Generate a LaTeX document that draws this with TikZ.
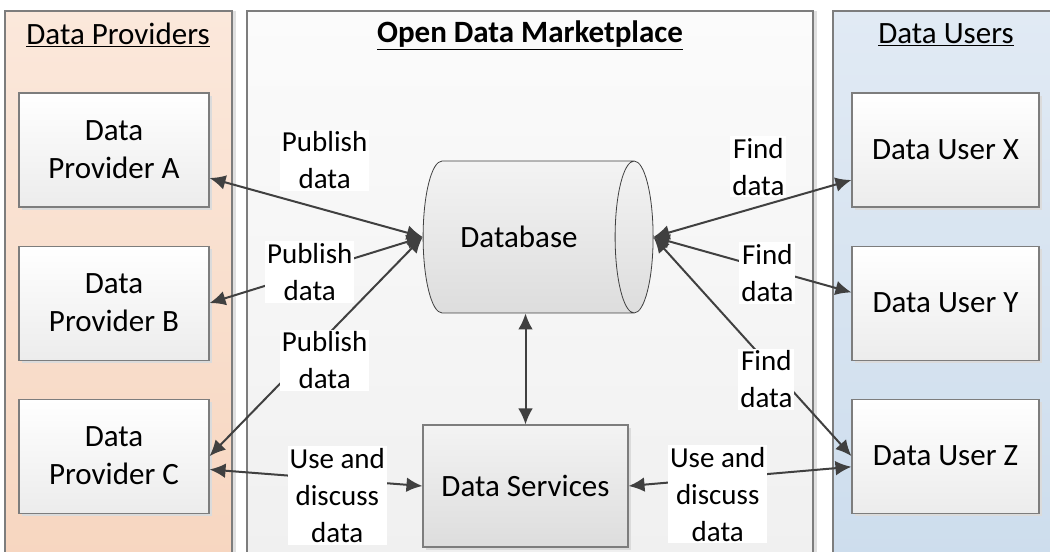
\documentclass[tikz,border=0pt]{standalone}
\usepackage{fontspec}
\setmainfont{Carlito}
\usetikzlibrary{
  arrows.meta,
  positioning,
  shapes.geometric,
  shadows
}
\definecolor{linegray}{RGB}{64,64,64}
\definecolor{framegray}{RGB}{125,125,125}
\definecolor{peachtop}{RGB}{251,232,219}
\definecolor{peachbot}{RGB}{247,214,192}
\definecolor{bluetop}{RGB}{225,234,244}
\definecolor{bluebot}{RGB}{205,221,237}
\definecolor{midtop}{RGB}{251,251,251}
\definecolor{midbot}{RGB}{240,240,240}
\definecolor{boxbot}{RGB}{236,236,236}
\definecolor{dbtop}{RGB}{243,243,243}
\definecolor{dbbot}{RGB}{221,221,221}

\begin{document}
\begin{tikzpicture}[
  x=0.75pt, y=-0.75pt,
  node distance=28.5pt,
  panel/.style={
    draw=framegray,
    line width=0.8pt,
    drop shadow={shadow xshift=3pt, shadow yshift=0pt, fill=black!12, opacity=1}
  },
  paneltitle/.style={
    font=\fontsize{23.25}{28}\selectfont,
    inner sep=0pt
  },
  entity/.style={
    draw=framegray,
    line width=0.8pt,
    top color=white,
    bottom color=boxbot,
    align=center,
    font=\fontsize{23.25}{28.5}\selectfont,
    minimum width=142.5pt,
    minimum height=85.5pt,
    drop shadow={shadow xshift=2.2pt, shadow yshift=-2.2pt, fill=black!14, opacity=1}
  },
  store/.style={
    cylinder,
    draw=linegray,
    line width=0.6pt,
    aspect=0.25,
    top color=dbtop,
    bottom color=dbbot,
    font=\fontsize{23.25}{28.5}\selectfont,
    text height=16pt,
    text depth=0pt,
    inner xsep=0pt,
    inner ysep=49pt,
    minimum height=172.5pt,
    minimum width=114pt
  },
  lbl/.style={
    fill=white,
    align=center,
    inner sep=1.5pt,
    font=\fontsize{21.75}{27.75}\selectfont
  },
  conn/.style={
    {Latex[length=12pt,width=11pt]}-{Latex[length=12pt,width=11pt]},
    line width=1.5pt,
    draw=linegray
  }
]
\clip (0,0) rectangle (1050,552);

\draw[panel, top color=peachtop, bottom color=peachbot] (5,11) rectangle (232,560);
\draw[panel, top color=midtop, bottom color=midbot] (247,11) rectangle (813,560);
\draw[panel, top color=bluetop, bottom color=bluebot] (833,11) rectangle (1060,560);

\node[paneltitle] (provtitle) at (118,35) {\underline{Data Providers}};
\node[paneltitle] (markettitle) at (530,35) {\underline{\textbf{Open Data Marketplace}}};
\node[paneltitle] (usertitle) at (946,35) {\underline{Data Users}};

\node[entity] (provA) at (114,150) {Data\\Provider A};
\node[entity, below=of provA] (provB) {Data\\Provider B};
\node[entity, below=of provB] (provC) {Data\\Provider C};

\node[entity, minimum width=140.25pt] (userX) at (945.5,150) {Data User X};
\node[entity, minimum width=140.25pt, below=of userX] (userY) {Data User Y};
\node[entity, minimum width=140.25pt, below=of userY] (userZ) {Data User Z};

\node[store] (db) at (519,237) {Database};
\node[entity, minimum width=153.75pt, minimum height=91.5pt, top color=dbtop, bottom color=dbbot] (sv) at (525.5,486) {Data Services};

\draw[conn] ([yshift=-21pt]provA.east) -- (db.west) node[lbl, pos=0.54, yshift=37pt]{Publish\\data};
\draw[conn] (provB.east) -- (db.west) node[lbl, pos=0.47]{Publish\\data};
\draw[conn] (provC.east) -- (db.west) node[lbl, pos=0.54, yshift=-17pt]{Publish\\data};
\draw[conn] (db.east) -- ([yshift=-22.5pt]userX.west) node[lbl, pos=0.53, yshift=30pt]{Find\\data};
\draw[conn] (db.east) -- ([yshift=8pt]userY.west) node[lbl, pos=0.575, yshift=-3pt]{Find\\data};
\draw[conn] (db.east) -- (userZ.west) node[lbl, pos=0.57, yshift=-13pt]{Find\\data};
\draw[conn] (db.south -| sv.north) -- (sv.north);
\draw[conn] ([yshift=-10pt]provC.east) -- (sv.west) node[lbl, pos=0.6, yshift=-12pt]{Use and\\discuss\\data};
\draw[conn] (sv.east) -- ([yshift=-8pt]userZ.west) node[lbl, pos=0.4, yshift=-12pt]{Use and\\discuss\\data};
\end{tikzpicture}
\end{document}
